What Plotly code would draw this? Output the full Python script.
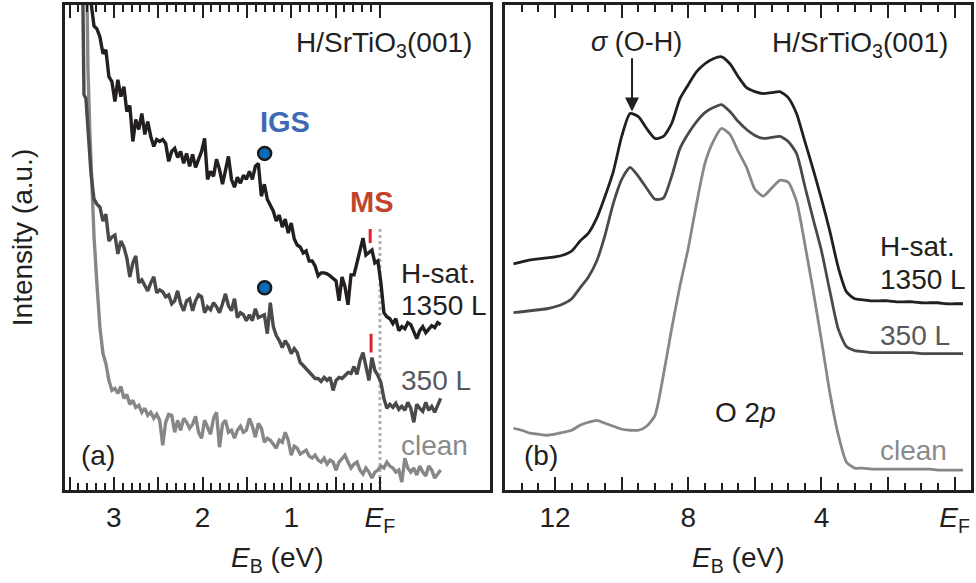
import plotly.graph_objects as go

# ---------------- panel (a): near-EF region ----------------
E_A = [3.258, 3.224, 3.191, 3.157, 3.123, 3.090, 3.056, 3.022, 2.988, 2.955,
       2.921, 2.887, 2.854, 2.820, 2.786, 2.753, 2.719, 2.685, 2.651, 2.618,
       2.584, 2.550, 2.517, 2.483, 2.449, 2.416, 2.382, 2.348, 2.314, 2.281,
       2.247, 2.213, 2.180, 2.146, 2.112, 2.079, 2.045, 2.011, 1.977, 1.944,
       1.910, 1.876, 1.843, 1.809, 1.775, 1.742, 1.708, 1.674, 1.640, 1.607,
       1.573, 1.539, 1.506, 1.472, 1.438, 1.405, 1.371, 1.337, 1.303, 1.270,
       1.236, 1.202, 1.169, 1.135, 1.101, 1.068, 1.034, 1.000, 0.966, 0.933,
       0.899, 0.865, 0.832, 0.798, 0.764, 0.731, 0.697, 0.663, 0.629, 0.596,
       0.562, 0.528, 0.495, 0.461, 0.427, 0.394, 0.360, 0.326, 0.292, 0.259,
       0.225, 0.191, 0.158, 0.124, 0.090, 0.057, 0.023, -0.011, -0.045, -0.078,
       -0.112, -0.146, -0.179, -0.213, -0.247, -0.281, -0.314, -0.348, -0.382, -0.415,
       -0.449, -0.483, -0.517, -0.550, -0.584, -0.618, -0.651, -0.685]

I_A_1350 = [490, 466, 463, 455, 438, 442, 415, 410, 390, 412,
            395, 405, 380, 386, 350, 372, 362, 378, 357, 370,
            355, 345, 352, 350, 352, 348, 330, 340, 343, 334,
            340, 328, 338, 325, 337, 324, 332, 340, 353, 312,
            320, 315, 332, 322, 307, 320, 335, 312, 304, 314,
            308, 316, 312, 320, 312, 325, 328, 295, 307, 292,
            286, 280, 270, 276, 264, 272, 258, 268, 252, 246,
            244, 238, 240, 230, 230, 225, 215, 218, 218, 217,
            215, 212, 210, 190, 214, 204, 186, 216, 216, 228,
            242, 253, 236, 238, 241, 228, 230, 208, 178, 174,
            172, 167, 172, 160, 164, 162, 168, 166, 158, 152,
            160, 164, 158, 161, 165, 163, 168, 166]

E_A_350 = [3.350, 3.337, 3.315, 3.281] + E_A
I_A_350 = [495, 397, 393, 350,
           318, 292, 287, 284, 270, 277, 250, 254, 256, 237,
           250, 244, 233, 214, 228, 235, 208, 211, 206, 200,
           208, 214, 198, 201, 199, 194, 196, 187, 190, 200,
           187, 180, 190, 192, 180, 190, 196, 194, 178, 184,
           181, 188, 184, 178, 187, 197, 185, 180, 192, 173,
           178, 176, 170, 176, 170, 182, 173, 175, 176, 157,
           188, 164, 155, 150, 143, 150, 145, 137, 142, 138,
           128, 125, 122, 118, 116, 112, 112, 109, 113, 110,
           113, 100, 110, 113, 112, 115, 118, 117, 124, 116,
           130, 138, 124, 110, 133, 120, 115, 108, 92, 82,
           86, 83, 87, 81, 84, 80, 88, 82, 68, 86,
           82, 79, 88, 80, 84, 78, 85, 92]

E_A_CLEAN = [3.303, 3.292, 3.270] + E_A
I_A_CLEAN = [495, 423, 357,
             330, 255, 207, 163, 137, 127, 110, 100, 102, 97,
             104, 92, 96, 86, 90, 83, 85, 78, 82, 75,
             78, 72, 76, 70, 45, 68, 76, 75, 58, 70,
             60, 72, 68, 62, 66, 74, 58, 52, 70, 64,
             56, 72, 78, 43, 66, 70, 58, 60, 52, 60,
             64, 58, 60, 72, 64, 53, 67, 62, 48, 52,
             50, 46, 42, 50, 48, 58, 50, 35, 44, 42,
             36, 38, 40, 34, 32, 35, 30, 28, 32, 26,
             30, 28, 20, 28, 32, 35, 28, 22, 26, 28,
             20, 16, 22, 18, 12, 18, 20, 24, 22, 28,
             24, 22, 18, 20, 8, 32, 22, 18, 22, 15,
             24, 18, 14, 24, 20, 12, 16, 20]

IGS_E = [1.30, 1.30]
IGS_I = [338, 203]
MS_E = [0.11, 0.10]
MS_I_LOW = [248, 138]
MS_I_HIGH = [262, 157]
EF_LINE_TOP = 262

# ---------------- panel (b): valence band ----------------
E_B = [13.25, 13.00, 12.75, 12.50, 12.25, 12.00, 11.75, 11.50, 11.25, 11.00,
       10.75, 10.50, 10.25, 10.00, 9.75, 9.50, 9.25, 9.00, 8.75, 8.50,
       8.25, 8.00, 7.75, 7.50, 7.25, 7.00, 6.75, 6.50, 6.25, 6.00,
       5.75, 5.50, 5.25, 5.00, 4.75, 4.50, 4.25, 4.00, 3.75, 3.50,
       3.25, 3.00, 2.75, 2.50, 2.25, 2.00, 1.75, 1.50, 1.25, 1.00,
       0.75, 0.50, 0.25, 0.00, -0.25]

I_B_1350 = [227, 229, 231, 232, 233, 234, 236, 240, 250, 258,
            273, 295, 320, 355, 378, 375, 363, 353, 355, 368,
            393, 407, 420, 428, 433, 435, 428, 415, 404, 400,
            398, 399, 400, 394, 378, 350, 322, 292, 260, 224,
            199, 192, 191, 190, 190, 190, 189, 189, 189, 188,
            188, 188, 187, 187, 187]

I_B_350 = [178, 179, 180, 181, 182, 184, 187, 192, 203, 214,
           230, 256, 288, 312, 324, 315, 303, 292, 293, 315,
           343, 358, 370, 379, 384, 387, 380, 370, 362, 356,
           353, 354, 355, 350, 338, 305, 272, 240, 200, 162,
           144, 140, 139, 138, 138, 138, 138, 138, 138, 137,
           137, 137, 137, 137, 137]

I_B_CLEAN = [62, 60, 57, 56, 55, 56, 58, 60, 65, 68,
             70, 67, 64, 61, 60, 60, 64, 75, 115, 162,
             205, 243, 288, 328, 350, 363, 357, 340, 324, 302,
             295, 303, 311, 309, 290, 247, 200, 150, 98, 56,
             28, 22, 22, 21, 21, 21, 21, 21, 21, 21,
             21, 20, 20, 20, 20]

SIGMA_E = 9.69
SIGMA_I_HEAD = 380
SIGMA_I_TAIL = 435

# ---------------- ticks ----------------
A_RANGE = [3.551, -1.236]
B_RANGE = [13.49, -0.49]
A_TICKVALS = [3.5, 3, 2.5, 2, 1.5, 1, 0.5, 0]
A_TICKTEXT = ["", "3", "", "2", "", "1", "", "<i>E</i><sub>F</sub>"]
A_MINOR = [3.4, 3.3, 3.2, 3.1, 2.9, 2.8, 2.7, 2.6, 2.4, 2.3, 2.2, 2.1,
           1.9, 1.8, 1.7, 1.6, 1.4, 1.3, 1.2, 1.1, 0.9, 0.8, 0.7, 0.6,
           0.4, 0.3, 0.2, 0.1]
B_TICKVALS = [12, 10, 8, 6, 4, 2, 0]
B_TICKTEXT = ["12", "", "8", "", "4", "", "<i>E</i><sub>F</sub>"]
B_MINOR = [13, 12.5, 11.5, 11, 10.5, 9.5, 9, 8.5, 7.5, 7, 6.5, 5.5, 5,
           4.5, 3.5, 3, 2.5, 1.5, 1, 0.5]

C_1350 = "#231f20"
C_350 = "#4a4a4c"
C_CLEAN = "#878787"
FONT = "Liberation Sans, Arial, Helvetica, sans-serif"
FS = 28

fig = go.Figure()

for e, i, c in [(E_A_CLEAN, I_A_CLEAN, C_CLEAN), (E_A_350, I_A_350, C_350),
                (E_A, I_A_1350, C_1350)]:
    fig.add_trace(go.Scatter(x=e, y=i, mode="lines", line=dict(color=c, width=3.4),
                             xaxis="x", yaxis="y", showlegend=False,
                             hoverinfo="skip"))

# IGS dots drawn on the top (twin) axis of panel (a), same range
fig.add_trace(go.Scatter(x=IGS_E, y=IGS_I, mode="markers", xaxis="x3", yaxis="y",
                         marker=dict(size=13, color="#0a6cb8",
                                     line=dict(color="#1a1a1a", width=2.5)),
                         showlegend=False, hoverinfo="skip"))

for i, c, xa in [(I_B_CLEAN, C_CLEAN, "x2"), (I_B_350, C_350, "x2"),
                 (I_B_1350, C_1350, "x4")]:
    fig.add_trace(go.Scatter(x=E_B, y=i, mode="lines",
                             line=dict(color=c, width=2.8, shape="spline", smoothing=0.6),
                             xaxis=xa, yaxis="y2", showlegend=False,
                             hoverinfo="skip"))

shapes = [dict(type="line", xref="x", yref="y", x0=0, x1=0, y0=0, y1=EF_LINE_TOP,
               line=dict(color="#b3b3b3", width=3, dash="dot"), layer="below")]
for e, lo, hi in zip(MS_E, MS_I_LOW, MS_I_HIGH):
    shapes.append(dict(type="line", xref="x", yref="y", x0=e, x1=e, y0=lo, y1=hi,
                       line=dict(color="#e3202d", width=3)))

def txt(x, y, t, xa="x", ya="y", color=C_1350, size=FS, xanchor="left", bold=False):
    return dict(x=x, y=y, xref=xa, yref=ya, text=("<b>%s</b>" % t) if bold else t,
                showarrow=False, xanchor=xanchor, yanchor="middle",
                font=dict(family=FONT, size=size, color=color))

ann = [
    txt(-1.056, 447, "H/SrTiO<sub>3</sub>(001)", xanchor="right"),
    txt(1.067, 370, "IGS", color="#3d6ab3", size=29, xanchor="center", bold=True),
    txt(0.09, 289, "MS", color="#c0452c", size=29, xanchor="center", bold=True),
    txt(-0.213, 217, "H-sat."),
    txt(-0.213, 185, "1350 L"),
    txt(-0.213, 110, "350 L", color="#58595b"),
    txt(-0.213, 45, "clean", color="#8a8a8a"),
    txt(3.388, 35, "(a)"),
    txt(0.14, 447, "H/SrTiO<sub>3</sub>(001)", "x2", "y2", xanchor="right"),
    txt(9.57, 450, "<i>σ</i> (O-H)", "x2", "y2", size=27, xanchor="center"),
    txt(2.30, 245, "H-sat.", "x2", "y2"),
    txt(2.30, 211, "1350 L", "x2", "y2"),
    txt(2.30, 155, "350 L", "x2", "y2", color="#58595b"),
    txt(2.30, 40, "clean", "x2", "y2", color="#8a8a8a"),
    txt(6.28, 78, "O 2<i>p</i>", "x2", "y2", xanchor="center"),
    txt(13.0, 35, "(b)", "x2", "y2"),
    dict(x=SIGMA_E, y=SIGMA_I_HEAD, ax=SIGMA_E, ay=SIGMA_I_TAIL, xref="x2", yref="y2",
         axref="x2", ayref="y2", text="", showarrow=True, arrowhead=2, arrowsize=1.4,
         arrowwidth=2, arrowcolor=C_1350),
    dict(x=-0.0473, y=0.5195, xref="paper", yref="paper", text="Intensity (a.u.)",
         textangle=-90, showarrow=False, xanchor="center", yanchor="middle",
         font=dict(family=FONT, size=FS, color=C_1350)),
]

tick_common = dict(ticks="inside", tickwidth=2, tickcolor=C_1350,
                   showgrid=False, zeroline=False, tickmode="array")
axis_common = dict(tick_common, ticklen=13, showline=True, linecolor=C_1350,
                   linewidth=2.5, mirror="ticks",
                   tickfont=dict(family=FONT, size=FS, color=C_1350),
                   ticklabelstandoff=1)
# top twin axes carry the short (minor) ticks along the upper frame
top_common = dict(tick_common, ticklen=7, showline=False, showticklabels=False,
                  side="top")
minor_a = dict(tickmode="array", tickvals=A_MINOR, ticks="inside",
               ticklen=7, tickwidth=2, tickcolor=C_1350)
minor_b = dict(tickmode="array", tickvals=B_MINOR, ticks="inside",
               ticklen=7, tickwidth=2, tickcolor=C_1350)
yaxis_common = dict(showline=True, linecolor=C_1350, linewidth=2.5, mirror=True,
                    ticks="", showticklabels=False, showgrid=False, zeroline=False,
                    range=[0, 487])
title_font = dict(family=FONT, size=FS, color=C_1350)

fig.update_layout(
    width=976, height=583, margin=dict(l=65, r=2, t=3, b=93),
    paper_bgcolor="white", plot_bgcolor="white",
    xaxis=dict(axis_common, domain=[0, 0.4686], range=A_RANGE,
               tickvals=A_TICKVALS, ticktext=A_TICKTEXT, minor=minor_a,
               title=dict(text="<i>E</i><sub>B</sub> (eV)", standoff=12, font=title_font)),
    xaxis3=dict(top_common, domain=[0, 0.4686], range=A_RANGE, overlaying="x",
                anchor="y", tickvals=A_MINOR),
    yaxis=dict(yaxis_common, anchor="x"),
    xaxis2=dict(axis_common, domain=[0.4862, 1], range=B_RANGE, anchor="y2",
                tickvals=B_TICKVALS, ticktext=B_TICKTEXT, minor=minor_b,
                title=dict(text="<i>E</i><sub>B</sub> (eV)", standoff=12, font=title_font)),
    xaxis4=dict(top_common, domain=[0.4862, 1], range=B_RANGE, overlaying="x2",
                anchor="y2", tickvals=B_MINOR),
    yaxis2=dict(yaxis_common, anchor="x2"),
    shapes=shapes, annotations=ann,
)

fig.write_html("out.html")
